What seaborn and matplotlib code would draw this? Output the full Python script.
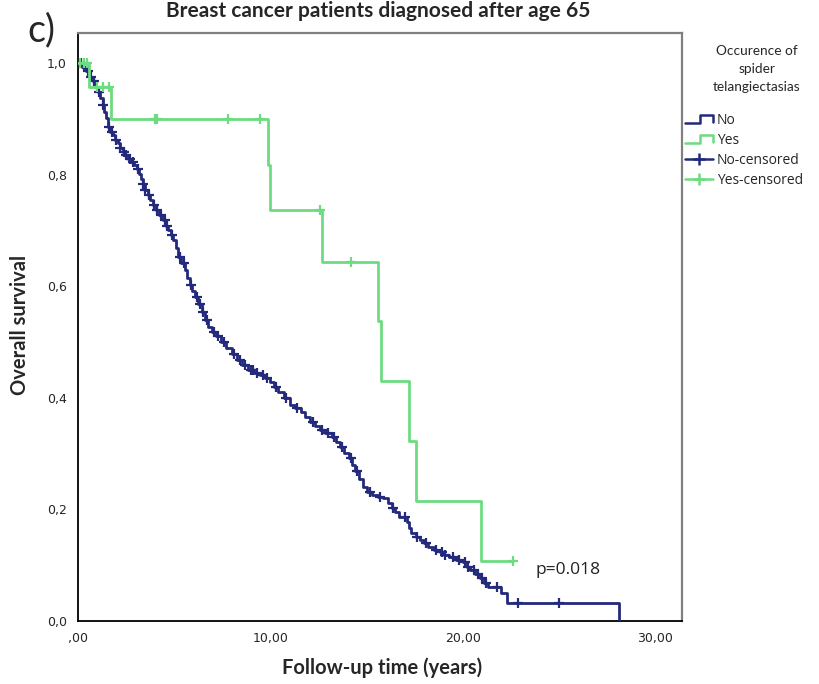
import numpy as np
import pandas as pd
import matplotlib
matplotlib.use("Agg")
import matplotlib.pyplot as plt
from matplotlib.lines import Line2D
from matplotlib.legend_handler import HandlerBase
import seaborn as sns

# ---------------- data ----------------
no_time = [0.0, 0.2, 0.42, 0.6, 0.76, 0.9, 1.02, 1.15, 1.28, 1.37, 1.45, 1.54, 1.67, 1.8,
           1.93, 2.06, 2.19, 2.32, 2.45, 2.58, 2.75, 2.93, 3.06, 3.19, 3.28, 3.36, 3.49,
           3.62, 3.75, 3.88, 4.05, 4.23, 4.4, 4.57, 4.7, 4.83, 4.95, 5.08, 5.21, 5.38,
           5.56, 5.69, 5.82, 5.95, 6.08, 6.25, 6.43, 6.6, 6.77, 6.98, 7.2, 7.45, 7.72,
           7.98, 8.24, 8.55, 8.85, 9.15, 9.45, 9.7, 9.97, 10.2, 10.4, 10.7, 11.0, 11.3,
           11.6, 11.8, 12.05, 12.3, 12.57, 12.85, 13.18, 13.4, 13.6, 13.85, 14.1, 14.25,
           14.4, 14.6, 14.8, 15.05, 15.3, 15.6, 15.86, 16.1, 16.3, 16.5, 16.7, 17.1,
           17.2, 17.3, 17.55, 17.8, 18.0, 18.2, 18.5, 18.8, 19.05, 19.3, 19.65, 20.0,
           20.2, 20.4, 20.65, 20.9, 21.1, 21.3, 22.0, 22.3, 28.1]
no_surv = [1.0, 0.993, 0.985, 0.975, 0.968, 0.958, 0.949, 0.937, 0.925, 0.912, 0.901, 0.885,
           0.877, 0.871, 0.863, 0.856, 0.848, 0.841, 0.835, 0.829, 0.823, 0.817, 0.81,
           0.802, 0.793, 0.784, 0.773, 0.763, 0.754, 0.746, 0.737, 0.728, 0.718, 0.708,
           0.700, 0.692, 0.683, 0.668, 0.653, 0.641, 0.629, 0.615, 0.602, 0.591, 0.581,
           0.568, 0.554, 0.540, 0.527, 0.518, 0.510, 0.500, 0.489, 0.478, 0.468, 0.458,
           0.450, 0.444, 0.441, 0.436, 0.429, 0.420, 0.411, 0.399, 0.387, 0.381, 0.375,
           0.366, 0.357, 0.350, 0.342, 0.337, 0.330, 0.321, 0.312, 0.302, 0.292, 0.280,
           0.268, 0.254, 0.241, 0.232, 0.226, 0.222, 0.220, 0.212, 0.202, 0.195, 0.187,
           0.178, 0.167, 0.157, 0.151, 0.145, 0.139, 0.133, 0.128, 0.124, 0.119, 0.115,
           0.110, 0.106, 0.097, 0.091, 0.084, 0.077, 0.069, 0.061, 0.050, 0.032, 0.0]
no_censor = [0.15, 0.3, 0.5, 0.7, 0.85, 1.1, 1.3, 1.6, 1.75, 2.0, 2.2, 2.4, 2.5, 2.7, 2.85,
             3.1, 3.4, 3.5, 3.7, 3.95, 4.1, 4.3, 4.5, 4.65, 4.9, 5.3, 5.5, 5.9, 6.2, 6.35,
             6.5, 6.7, 7.05, 7.3, 7.6, 8.1, 8.4, 8.7, 9.0, 9.1, 9.3, 9.6, 9.8, 10.3, 10.8,
             11.4, 12.2, 12.7, 13.0, 13.3, 13.7, 14.2, 14.5, 15.2, 15.7, 16.4, 17.0, 17.6,
             18.1, 18.6, 18.9, 19.1, 19.5, 19.8, 20.1, 20.3, 20.6, 20.8, 21.0, 21.2, 21.8,
             22.9, 25.0]

yes_time = [0.0, 0.57, 1.71, 9.87, 10.0, 12.7, 15.6, 15.77, 17.2, 17.55, 20.97, 22.6]
yes_surv = [1.0, 0.957, 0.900, 0.818, 0.736, 0.644, 0.537, 0.430, 0.322, 0.215, 0.107, 0.107]
yes_censor = [0.1, 0.3, 0.45, 1.0, 1.3, 1.6, 4.0, 4.12, 7.8, 9.45, 12.6, 14.2, 22.6]

group_labels = ["No", "Yes"]
legend_title = "Occurence of\nspider\ntelangiectasias"
title = "Breast cancer patients diagnosed after age 65"
x_ticks = [0, 10, 20, 30]
x_tick_labels = [",00", "10,00", "20,00", "30,00"]
y_ticks = [0.0, 0.2, 0.4, 0.6, 0.8, 1.0]
y_tick_labels = ["0,0", "0,2", "0,4", "0,6", "0,8", "1,0"]
p_text = "p=0.018"

# ---------------- styling ----------------
sns.set_style("white")
plt.rcParams["font.family"] = ["Lato", "DejaVu Sans"]

NAVY = "#232a7c"
GREEN = "#6ddc80"


def surv_at(times, surv, t):
    idx = np.searchsorted(np.asarray(times), t, side="right") - 1
    return np.asarray(surv)[idx]


fig = plt.figure(figsize=(8.19, 6.84), dpi=100)
ax = fig.add_axes([78 / 819, 63 / 684, (682 - 78) / 819, (621 - 33) / 684])

df_no = pd.DataFrame({"t": no_time, "s": no_surv})
df_yes = pd.DataFrame({"t": yes_time, "s": yes_surv})
sns.lineplot(data=df_no, x="t", y="s", drawstyle="steps-post", color=NAVY,
             linewidth=2.0, ax=ax, sort=False, estimator=None, zorder=3)
sns.lineplot(data=df_yes, x="t", y="s", drawstyle="steps-post", color=GREEN,
             linewidth=2.0, ax=ax, sort=False, estimator=None, zorder=4)

cn = pd.DataFrame({"t": no_censor, "s": surv_at(no_time, no_surv, no_censor)})
cy = pd.DataFrame({"t": yes_censor, "s": surv_at(yes_time, yes_surv, yes_censor)})
sns.scatterplot(data=cn, x="t", y="s", marker="+", s=55, color=NAVY, linewidth=1.6,
                ax=ax, zorder=3)
sns.scatterplot(data=cy, x="t", y="s", marker="+", s=55, color=GREEN, linewidth=1.6,
                ax=ax, zorder=4)

ax.set_xlim(0, 31.4)
ax.set_ylim(0, 1.054)
ax.set_xticks(x_ticks)
ax.set_xticklabels(x_tick_labels)
ax.set_yticks(y_ticks)
ax.set_yticklabels(y_tick_labels)
ax.tick_params(axis="both", direction="out", length=5, width=1.2, color="black",
               labelsize=9, pad=3)
for lab in ax.get_xticklabels() + ax.get_yticklabels():
    lab.set_family(["Liberation Sans Narrow", "DejaVu Sans"])
ax.set_xlabel("")
ax.set_ylabel("")
for side in ["left", "bottom"]:
    ax.spines[side].set_color("black")
    ax.spines[side].set_linewidth(1.3)
for side in ["top", "right"]:
    ax.spines[side].set_color("#808080")
    ax.spines[side].set_linewidth(1.6)

ax.text(23.8, 0.091, p_text, fontsize=12.5, va="center", ha="left",
        family=["Open Sans", "DejaVu Sans"], color="#222222")

fig.text(378 / 819, 1 - 1 / 684, title, fontsize=15, fontweight="bold",
         ha="center", va="top")
fig.text(41 / 819, 1 - 30 / 684, "c)", fontsize=27, ha="center", va="center")
fig.text(382 / 819, 1 - 668 / 684, "Follow-up time (years)", fontsize=14.5,
         fontweight="bold", ha="center", va="center")
fig.text(20 / 819, 1 - 325 / 684, "Overall survival", fontsize=14.5,
         fontweight="bold", ha="center", va="center", rotation=90)
fig.text(757 / 819, 1 - 69 / 684, legend_title, fontsize=9.8, ha="center",
         va="center", linespacing=1.6)


class HandlerStep(HandlerBase):
    def create_artists(self, legend, orig_handle, xdescent, ydescent, width,
                       height, fontsize, trans):
        x0 = -xdescent
        y0 = -ydescent
        xs = [x0, x0 + 0.55 * width, x0 + 0.55 * width, x0 + width, x0 + width]
        ys = [y0 + 0.1 * height, y0 + 0.1 * height, y0 + 0.9 * height,
              y0 + 0.9 * height, y0 + 0.25 * height]
        ln = Line2D(xs, ys, color=orig_handle.get_color(), linewidth=1.8,
                    transform=trans)
        return [ln]


h_no = Line2D([], [], color=NAVY)
h_yes = Line2D([], [], color=GREEN)
h_nc = Line2D([], [], color=NAVY, marker="+", markersize=9, markeredgewidth=1.8,
              linewidth=1.8)
h_yc = Line2D([], [], color=GREEN, marker="+", markersize=9, markeredgewidth=1.8,
              linewidth=1.8)
leg = fig.legend([h_no, h_yes, h_nc, h_yc],
                 [group_labels[0], group_labels[1], group_labels[0] + "-censored",
                  group_labels[1] + "-censored"],
                 handler_map={h_no: HandlerStep(), h_yes: HandlerStep()},
                 loc="upper left", bbox_to_anchor=(685 / 819, 1 - 113 / 684),
                 frameon=False, fontsize=10, handlelength=2.0, handletextpad=0.3,
                 labelspacing=0.36, borderpad=0, borderaxespad=0)
for t in leg.get_texts():
    t.set_family(["Open Sans", "DejaVu Sans"])

fig.savefig("out.png", dpi=100)
